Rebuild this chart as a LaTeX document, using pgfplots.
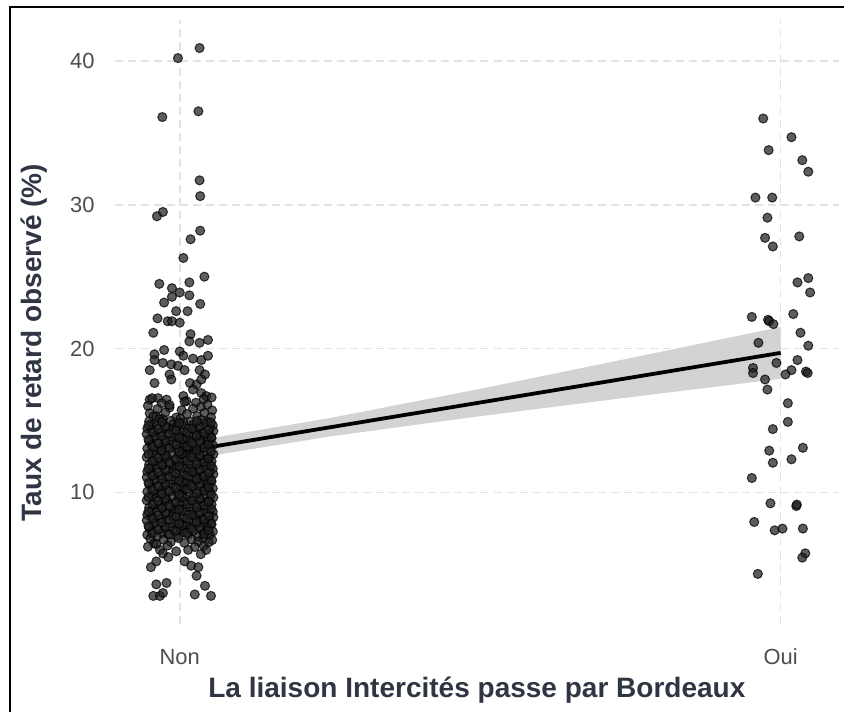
\documentclass[border=0pt]{standalone}
\usepackage{fontspec}
\setmainfont{Liberation Sans}
\usepackage{pgfplots}
\pgfplotsset{compat=1.18}
\definecolor{gridc}{HTML}{E3E3E3}
\definecolor{tickc}{HTML}{4D4D4D}
\definecolor{titlec}{HTML}{2F3542}
\definecolor{bandc}{HTML}{D3D3D3}

\begin{document}
\begin{tikzpicture}
\begin{axis}[
  at={(0,0)}, anchor=south west,
  scale only axis, width=12.083cm, height=10.083cm,
  xmin=-0.108, xmax=1.097, ymin=0.83, ymax=42.85,
  axis line style={draw=none},
  major tick length=0pt,
  xtick={0,1}, xticklabels={Non,Oui},
  ytick={10,20,30,40}, yticklabels={10,20,30,40},
  grid=major,
  grid style={gridc, line width=0.8pt, dash pattern=on 3.8pt off 2.4pt},
  ticklabel style={font=\fontsize{10.4}{12}\selectfont, text=tickc},
  xticklabel style={anchor=base, yshift=-0.667cm},
  yticklabel style={anchor=east, inner sep=0pt, xshift=-0.333cm},
  xlabel={La liaison Intercités passe par Bordeaux},
  ylabel={Taux de retard observé (\%)},
  label style={font=\fontsize{13.3}{15}\selectfont\bfseries, text=titlec},
  xlabel style={at={(axis description cs:0.5,-0.1207)}, anchor=base},
  ylabel style={at={(axis description cs:-0.1007,0.466)}, anchor=base},
  every axis plot/.append style={mark size=2.15pt},
  pts/.style={only marks, mark=*, mark options={draw=black, fill=black!88, opacity=0.72, line width=0.5pt}},
]
% confidence band of the fit
\addplot[fill=bandc, draw=none] coordinates {
  (0,13.40)(0.25,15.17)(0.5,17.20)(0.75,19.34)(1,21.50)
  (1,17.90)(0.75,16.62)(0.5,15.30)(0.25,13.89)(0,12.20)} -- cycle;
% regression line
\addplot[black, line width=1.8pt] coordinates {(0,12.8)(1,19.7)};

% Oui
\addplot[pts] coordinates {
(0.971,36.0)(1.018,34.7)(0.980,33.8)(1.036,33.1)(1.046,32.3)(0.958,30.5)(0.986,30.5)
(0.978,29.1)(0.974,27.7)(1.031,27.8)(0.987,27.1)(1.028,24.6)(1.046,24.9)(1.049,23.9)
(0.952,22.2)(0.979,22.0)(0.981,21.9)(0.988,21.7)(1.021,22.4)(1.033,21.1)(0.963,20.4)
(1.046,20.2)(0.993,19.0)(0.954,18.65)(0.954,18.3)(1.028,19.2)(1.018,18.5)(1.008,18.2)
(1.042,18.4)(1.045,18.3)(0.974,17.85)(0.978,17.15)(1.012,16.2)(1.012,14.9)(0.987,14.4)
(0.981,12.9)(1.037,13.1)(0.987,12.06)(1.018,12.3)(0.952,11.0)(0.983,9.24)(1.026,9.05)
(1.027,9.15)(0.956,7.94)(0.990,7.36)(1.003,7.48)(1.037,7.48)(1.041,5.76)(1.036,5.46)
(0.962,4.33)};

% Non
\addplot[pts] coordinates {
(0.033,40.9)(-0.003,40.2)(-0.029,36.1)(0.031,36.5)(0.033,31.7)(0.034,30.6)(-0.028,29.5)
(-0.038,29.2)(0.034,28.2)(0.018,27.6)(0.006,26.3)(0.041,25.0)(-0.034,24.5)(0.016,24.6)
(-0.013,24.2)(0.000,23.9)(-0.013,23.6)(0.016,23.7)(-0.026,23.2)(0.034,23.1)(-0.006,22.6)
(0.013,22.6)(-0.037,22.1)(-0.020,21.9)(-0.013,21.9)(0.000,21.8)
(-0.044,21.1)(0.018,21.0)(0.016,20.5)(0.033,20.4)(0.047,20.6)(-0.026,19.9)(-0.042,19.6)
(-0.042,19.2)(0.000,19.8)(0.006,19.5)(0.022,19.3)(0.036,19.2)(0.047,19.5)(-0.028,19.0)
(-0.014,18.9)(-0.003,18.8)(0.008,18.5)(-0.050,18.5)(-0.017,18.2)(-0.014,17.85)(0.033,18.5)
(0.042,18.2)(-0.042,17.6)(0.017,17.6)(0.028,17.5)(0.036,17.85)(0.022,17.15)(0.036,16.9)
(0.044,16.7)(-0.050,16.45)(-0.036,16.55)(-0.022,16.45)(0.006,16.7)(0.011,16.35)(-0.017,15.9)
(-0.050,15.5)(-0.039,15.3)(-0.028,15.1)
(-0.030,16.2)(0.008,16.3)(0.027,16.24)(-0.046,16.55)(0.040,16.48)(0.053,16.6)
(-0.053,16.02)(-0.017,16.08)(0.035,15.95)(0.046,16.1)
(-0.037,15.80)(0.003,15.72)(0.022,15.83)(0.054,15.70)
(-0.024,15.56)(0.012,15.45)(0.041,15.52)
(-0.044,15.28)(-0.006,15.20)(0.029,15.31)(0.052,15.22)
(-0.051,14.94)(-0.034,15.09)(-0.015,14.98)(0.001,15.11)(0.018,14.93)(0.036,15.04)(0.047,14.90)
(-0.047,14.69)(-0.029,14.84)(-0.011,14.73)(0.006,14.86)(0.022,14.68)(0.040,14.79)(0.055,14.65)
(-0.054,14.44)(-0.038,14.59)(-0.020,14.48)(-0.004,14.61)(0.014,14.43)(0.031,14.54)(0.050,14.40)
(-0.046,14.30)(-0.031,14.17)(-0.013,14.35)(0.004,14.22)(0.024,14.32)(0.038,14.15)(0.056,14.27)
(-0.055,14.05)(-0.040,13.92)(-0.022,14.10)(-0.001,13.97)(0.016,14.07)(0.033,13.90)(0.049,14.02)
(-0.043,13.80)(-0.025,13.67)(-0.008,13.85)(0.010,13.72)(0.027,13.82)(0.044,13.65)(0.053,13.77)
(-0.051,13.55)(-0.034,13.42)(-0.015,13.60)(0.001,13.47)(0.018,13.57)(0.036,13.40)(0.047,13.52)
(-0.047,13.30)(-0.029,13.17)(-0.011,13.35)(0.006,13.22)(0.022,13.32)(0.040,13.15)(0.055,13.27)
(-0.054,13.05)(-0.038,12.92)(-0.020,13.10)(-0.004,12.97)(0.014,13.07)(0.031,12.90)(0.050,13.02)
(-0.046,12.69)(-0.031,12.84)(-0.013,12.73)(0.004,12.86)(0.024,12.68)(0.038,12.79)(0.056,12.65)
(-0.055,12.44)(-0.040,12.59)(-0.022,12.48)(-0.001,12.61)(0.016,12.43)(0.033,12.54)(0.049,12.40)
(-0.043,12.19)(-0.025,12.34)(-0.008,12.23)(0.010,12.36)(0.027,12.18)(0.044,12.29)(0.053,12.15)
(-0.051,11.94)(-0.034,12.09)(-0.015,11.98)(0.001,12.11)(0.018,11.93)(0.036,12.04)(0.047,11.90)
(-0.047,11.69)(-0.029,11.84)(-0.011,11.73)(0.006,11.86)(0.022,11.68)(0.040,11.79)(0.055,11.65)
(-0.054,11.44)(-0.038,11.59)(-0.020,11.48)(-0.004,11.61)(0.014,11.43)(0.031,11.54)(0.050,11.40)
(-0.046,11.30)(-0.031,11.17)(-0.013,11.35)(0.004,11.22)(0.024,11.32)(0.038,11.15)(0.056,11.27)
(-0.055,11.05)(-0.040,10.92)(-0.022,11.10)(-0.001,10.97)(0.016,11.07)(0.033,10.90)(0.049,11.02)
(-0.043,10.80)(-0.025,10.67)(-0.008,10.85)(0.010,10.72)(0.027,10.82)(0.044,10.65)(0.053,10.77)
(-0.051,10.55)(-0.034,10.42)(-0.015,10.60)(0.001,10.47)(0.018,10.57)(0.036,10.40)(0.047,10.52)
(-0.047,10.30)(-0.029,10.17)(-0.011,10.35)(0.006,10.22)(0.022,10.32)(0.040,10.15)(0.055,10.27)
(-0.054,10.05)(-0.038,9.92)(-0.020,10.10)(-0.004,9.97)(0.014,10.07)(0.031,9.90)(0.050,10.02)
(-0.046,9.69)(-0.031,9.84)(-0.013,9.73)(0.004,9.86)(0.024,9.68)(0.038,9.79)(0.056,9.65)
(-0.055,9.44)(-0.040,9.59)(-0.022,9.48)(-0.001,9.61)(0.016,9.43)(0.033,9.54)(0.049,9.40)
(-0.043,9.19)(-0.025,9.34)(-0.008,9.23)(0.010,9.36)(0.027,9.18)(0.044,9.29)(0.053,9.15)
(-0.051,8.94)(-0.034,9.09)(-0.015,8.98)(0.001,9.11)(0.018,8.93)(0.036,9.04)(0.047,8.90)
(-0.047,8.69)(-0.029,8.84)(-0.011,8.73)(0.006,8.86)(0.022,8.68)(0.040,8.79)(0.055,8.65)
(-0.054,8.44)(-0.038,8.59)(-0.020,8.48)(-0.004,8.61)(0.014,8.43)(0.031,8.54)(0.050,8.40)
(-0.046,8.30)(-0.031,8.17)(-0.013,8.35)(0.004,8.22)(0.024,8.32)(0.038,8.15)(0.056,8.27)
(-0.055,8.05)(-0.040,7.92)(-0.022,8.10)(-0.001,7.97)(0.016,8.07)(0.033,7.90)(0.049,8.02)
(-0.043,7.80)(-0.025,7.67)(-0.008,7.85)(0.010,7.72)(0.027,7.82)(0.044,7.65)(0.053,7.77)
(-0.051,7.55)(-0.034,7.42)(-0.015,7.60)(0.001,7.47)(0.018,7.57)(0.036,7.40)(0.047,7.52)
(-0.047,7.30)(-0.029,7.17)(-0.011,7.35)(0.006,7.22)(0.022,7.32)(0.040,7.15)(0.055,7.27)
(-0.054,7.05)(-0.038,6.92)(-0.020,7.10)(-0.004,6.97)(0.014,7.07)(0.031,6.90)(0.050,7.02)
(-0.049,6.78)(-0.027,6.70)(-0.002,6.82)(0.020,6.72)(0.039,6.80)(0.054,6.68)
(-0.043,6.45)(-0.015,6.55)(0.008,6.48)(0.031,6.58)(0.048,6.52)
(-0.053,6.22)(-0.020,6.30)(0.025,6.20)(0.040,6.28)
(-0.039,6.4)(-0.033,6.0)(-0.006,5.9)(0.014,6.0)(0.044,6.0)(-0.028,5.75)(0.035,5.7)
(-0.039,5.2)(-0.019,5.5)(0.008,5.2)(0.019,4.9)(0.031,4.8)(-0.048,4.8)(0.028,4.2)
(-0.039,3.6)(-0.022,3.7)(-0.044,2.8)(-0.033,2.8)(-0.028,3.0)(0.042,3.5)(0.025,2.9)(0.052,2.8)
(-0.045,7.165)(-0.017,7.075)(0.012,7.195)(0.041,7.105)(-0.036,7.415)(-0.006,7.325)(0.020,7.445)(0.048,7.355)
(-0.052,7.665)(-0.024,7.575)(0.003,7.695)(0.033,7.605)(-0.030,7.915)(-0.001,7.825)(0.028,7.945)(0.052,7.855)
(-0.045,8.165)(-0.017,8.075)(0.012,8.195)(0.041,8.105)(-0.036,8.415)(-0.006,8.325)(0.020,8.445)(0.048,8.355)
(-0.052,8.665)(-0.024,8.575)(0.003,8.695)(0.033,8.605)(-0.030,8.915)(-0.001,8.825)(0.028,8.945)(0.052,8.855)
(-0.045,9.165)(-0.017,9.075)(0.012,9.195)(0.041,9.105)(-0.036,9.415)(-0.006,9.325)(0.020,9.445)(0.048,9.355)
(-0.052,9.665)(-0.024,9.575)(0.003,9.695)(0.033,9.605)(-0.030,9.915)(-0.001,9.825)(0.028,9.945)(0.052,9.855)
(-0.045,10.165)(-0.017,10.075)(0.012,10.195)(0.041,10.105)(-0.036,10.415)(-0.006,10.325)(0.020,10.445)(0.048,10.355)
(-0.052,10.665)(-0.024,10.575)(0.003,10.695)(0.033,10.605)(-0.030,10.915)(-0.001,10.825)(0.028,10.945)(0.052,10.855)
(-0.045,11.165)(-0.017,11.075)(0.012,11.195)(0.041,11.105)(-0.036,11.415)(-0.006,11.325)(0.020,11.445)(0.048,11.355)
(-0.052,11.665)(-0.024,11.575)(0.003,11.695)(0.033,11.605)(-0.030,11.915)(-0.001,11.825)(0.028,11.945)(0.052,11.855)
(-0.045,12.165)(-0.017,12.075)(0.012,12.195)(0.041,12.105)(-0.036,12.415)(-0.006,12.325)(0.020,12.445)(0.048,12.355)
(-0.052,12.665)(-0.024,12.575)(0.003,12.695)(0.033,12.605)(-0.030,12.915)(-0.001,12.825)(0.028,12.945)(0.052,12.855)
(-0.045,13.165)(-0.017,13.075)(0.012,13.195)(0.041,13.105)(-0.036,13.415)(-0.006,13.325)(0.020,13.445)(0.048,13.355)
(-0.052,13.665)(-0.024,13.575)(0.003,13.695)(0.033,13.605)(-0.030,13.915)(-0.001,13.825)(0.028,13.945)(0.052,13.855)
(-0.045,14.165)(-0.017,14.075)(0.012,14.195)(0.041,14.105)(-0.036,14.415)(-0.006,14.325)(0.020,14.445)(0.048,14.355)
(-0.052,14.665)(-0.024,14.575)(0.003,14.695)(0.033,14.605)(-0.030,14.915)(-0.001,14.825)(0.028,14.945)(0.052,14.855)};
\end{axis}
% frame of the original screenshot
\draw[line width=1pt] (-1.75cm,-1.4667cm) -- (-1.75cm,10.3cm) -- (12.1667cm,10.3cm);
\path (-1.9167cm,-1.4667cm) rectangle (12.1667cm,10.4167cm);
\end{tikzpicture}
\end{document}
